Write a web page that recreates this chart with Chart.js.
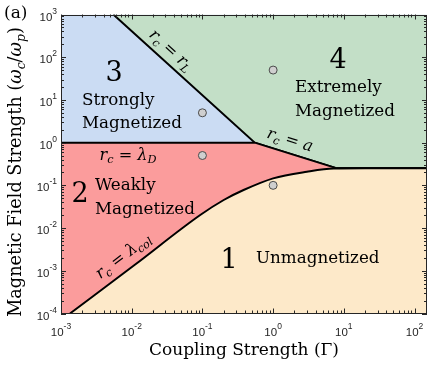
<!DOCTYPE html>
<html><head><meta charset="utf-8">
<script src="https://cdn.jsdelivr.net/npm/chart.js@4/dist/chart.umd.min.js"></script>
<style>html,body{margin:0;padding:0;background:#fff}#wrap{width:436px;height:365px;position:relative}</style>
</head><body><div id="wrap"><canvas id="c" width="436" height="365"></canvas></div>
<script>
// ---- data ----
const xRange = [1e-3, 150];
const yRange = [1e-4, 1e3];
const xTickExps = [-3, -2, -1, 0, 1, 2];
const yTickExps = [-4, -3, -2, -1, 0, 1, 2, 3];

// boundary r_c = lambda_D (horizontal, omega_c/omega_p = 1)
const lambdaDGamma = [0.001, 0.55];
const lambdaDB = [1, 1];
// boundary r_c = r_L
const rLGamma = [0.0055, 0.55];
const rLB = [1000, 1];
// boundary r_c = a
const aGamma = [0.55, 8.0];
const aB = [1, 0.25];
// flat boundary at large coupling
const flatGamma = [8.0, 150];
const flatB = [0.25, 0.25];
// boundary r_c = lambda_col (curve)
const colGamma = [0.00134, 0.0112, 0.0931, 0.2, 0.382, 1.0, 3.0, 7.2, 20, 150];
const colB = [1e-4, 0.0014, 0.0202, 0.0454, 0.0778, 0.146, 0.208, 0.247, 0.25, 0.25];
// marked sample points
const ptGamma = [0.1, 1, 0.1, 1];
const ptB = [5, 50, 0.5, 0.1];

const xTitle = [{t:'Coupling Strength ('}, {t:'\u0393'}, {t:')'}];
const yTitle = [{t:'Magnetic Field Strength ('}, {t:'\u03c9', i:1}, {t:'c', i:1, sub:1}, {t:'/'}, {t:'\u03c9', i:1}, {t:'p', i:1, sub:1}, {t:')'}];

const COL = {blue:'#cbdcf3', green:'#c3dfc7', red:'#fb9c9c', beige:'#fde9c9'};

const zip = (xs, ys) => xs.map((x, i) => ({x, y: ys[i]}));
const upperBoundary = zip(rLGamma.concat(aGamma.slice(1), flatGamma.slice(1)), rLB.concat(aB.slice(1), flatB.slice(1)));
const redTop = zip(lambdaDGamma.concat(aGamma.slice(1), flatGamma.slice(1)), lambdaDB.concat(aB.slice(1), flatB.slice(1)));

const SERIF = '"DejaVu Serif", serif';
const SANS = '"Liberation Sans", Arial, sans-serif';

function fontStr(s, size, fam) {
  const sz = (s.sub || s.sup) ? size * 0.7 : size;
  return (s.i ? 'italic ' : '') + sz.toFixed(2) + 'px ' + fam;
}
function richWidth(ctx, segs, size, fam) {
  let w = 0;
  for (const s of segs) { ctx.font = fontStr(s, size, fam); w += ctx.measureText(s.t).width; }
  return w;
}
function drawRich(ctx, segs, x, y, size, fam, align) {
  const w = richWidth(ctx, segs, size, fam);
  let cx = align === 'center' ? x - w / 2 : align === 'right' ? x - w : x;
  ctx.textAlign = 'left';
  ctx.textBaseline = 'alphabetic';
  for (const s of segs) {
    ctx.font = fontStr(s, size, fam);
    const dy = s.sub ? size * 0.22 : s.sup ? -size * 0.45 : 0;
    ctx.fillText(s.t, cx, y + dy);
    cx += ctx.measureText(s.t).width;
  }
  return w;
}
function fitSize(ctx, segs, fam, target) {
  const w = richWidth(ctx, segs, 10, fam);
  return 10 * target / w;
}

const eq = {
  rL: [{t:'r', i:1}, {t:'c', i:1, sub:1}, {t:' = '}, {t:'r', i:1}, {t:'L', i:1, sub:1}],
  a: [{t:'r', i:1}, {t:'c', i:1, sub:1}, {t:' = '}, {t:'a', i:1}],
  lD: [{t:'r', i:1}, {t:'c', i:1, sub:1}, {t:' = '}, {t:'\u03bb', i:1}, {t:'D', i:1, sub:1}],
  lcol: [{t:'r', i:1}, {t:'c', i:1, sub:1}, {t:' = '}, {t:'\u03bb', i:1}, {t:'col', i:1, sub:1}]
};

const decor = {
  id: 'decor',
  afterDatasetsDraw(chart) {
    const ctx = chart.ctx;
    const xs = chart.scales.x, ys = chart.scales.y;
    ctx.save();
    ctx.fillStyle = '#000';
    // region numbers
    ctx.font = '27px ' + SERIF; ctx.textAlign = 'center'; ctx.textBaseline = 'alphabetic';
    ctx.fillText('3', 114, 81);
    ctx.fillText('4', 338, 68);
    ctx.fillText('2', 80, 202);
    ctx.fillText('1', 229, 268);
    // region names
    const rs = fitSize(ctx, [{t:'Magnetized'}], SERIF, 100);
    ctx.font = rs.toFixed(2) + 'px ' + SERIF; ctx.textAlign = 'left';
    ctx.fillText('Strongly', 82, 105);
    ctx.fillText('Magnetized', 82, 128);
    ctx.fillText('Extremely', 295, 92);
    ctx.fillText('Magnetized', 295, 116);
    ctx.fillText('Weakly', 95, 190);
    ctx.fillText('Magnetized', 95, 214);
    ctx.fillText('Unmagnetized', 256, 263);
    // equation labels
    const es = fitSize(ctx, eq.lD, SERIF, 57);
    const rot = (segs, cx, cy, ang) => {
      ctx.save(); ctx.translate(cx, cy); ctx.rotate(ang);
      drawRich(ctx, segs, 0, es * 0.3, es, SERIF, 'center');
      ctx.restore();
    };
    const angOf = (g1, b1, g2, b2) => Math.atan2(ys.getPixelForValue(b2) - ys.getPixelForValue(b1), xs.getPixelForValue(g2) - xs.getPixelForValue(g1));
    rot(eq.rL, 171, 50, angOf(rLGamma[0], rLB[0], rLGamma[1], rLB[1]));
    rot(eq.a, 290, 140, angOf(aGamma[0], aB[0], aGamma[1], aB[1]));
    rot(eq.lD, 128, 155, 0);
    rot(eq.lcol, 123, 256, angOf(colGamma[0], colB[0], colGamma[2], colB[2]));
    ctx.restore();
  },
  afterDraw(chart) {
    const ctx = chart.ctx, ca = chart.chartArea;
    const xs = chart.scales.x, ys = chart.scales.y;
    ctx.save();
    ctx.strokeStyle = '#262626'; ctx.lineWidth = 1;
    // ticks, inward, all four sides
    ctx.beginPath();
    for (let d = -4; d <= 3; d++) for (let m = 1; m <= 9; m++) {
      const v = m * Math.pow(10, d);
      const len = m === 1 ? 5 : 3;
      if (v >= xRange[0] && v <= xRange[1]) {
        const px = Math.round(xs.getPixelForValue(v)) + 0.5;
        ctx.moveTo(px, ca.bottom); ctx.lineTo(px, ca.bottom - len);
        ctx.moveTo(px, ca.top); ctx.lineTo(px, ca.top + len);
      }
      if (v >= yRange[0] && v <= yRange[1]) {
        const py = Math.round(ys.getPixelForValue(v)) + 0.5;
        ctx.moveTo(ca.left, py); ctx.lineTo(ca.left + len, py);
        ctx.moveTo(ca.right, py); ctx.lineTo(ca.right - len, py);
      }
    }
    ctx.stroke();
    ctx.strokeRect(Math.round(ca.left) + 0.5, Math.round(ca.top) + 0.5, Math.round(ca.right - ca.left) - 1, Math.round(ca.bottom - ca.top) - 1);
    // tick labels
    ctx.fillStyle = '#262626';
    const tl = (e, x, y, align) => {
      const base = '11.5px ' + SANS, sup = '8.5px ' + SANS;
      ctx.font = base; const w1 = ctx.measureText('10').width;
      ctx.font = sup; const w2 = ctx.measureText(String(e)).width;
      let x0 = align === 'center' ? x - (w1 + w2) / 2 : x - (w1 + w2);
      ctx.textAlign = 'left'; ctx.textBaseline = 'alphabetic';
      ctx.font = base; ctx.fillText('10', x0, y);
      ctx.font = sup; ctx.fillText(String(e), x0 + w1, y - 7);
    };
    for (const e of xTickExps) tl(e, xs.getPixelForValue(Math.pow(10, e)), 335.5, 'center');
    for (const e of yTickExps) tl(e, ca.left - 4, ys.getPixelForValue(Math.pow(10, e)) + 6, 'right');
    // axis titles
    ctx.fillStyle = '#000';
    const xsz = fitSize(ctx, xTitle, SERIF, 190);
    drawRich(ctx, xTitle, (ca.left + ca.right) / 2, 355, xsz, SERIF, 'center');
    const ysz = fitSize(ctx, yTitle, SERIF, 290);
    ctx.save(); ctx.translate(21, 172); ctx.rotate(-Math.PI / 2);
    drawRich(ctx, yTitle, 0, 0, ysz, SERIF, 'center');
    ctx.restore();
    // panel label
    ctx.font = '17px ' + SERIF; ctx.textAlign = 'left'; ctx.textBaseline = 'alphabetic';
    ctx.fillText('(a)', 4, 18);
    ctx.restore();
  }
};

const lineDs = (label, data, fillMode, bg, order, extra) => Object.assign({
  label, data, fill: fillMode, backgroundColor: bg, borderColor: '#000', borderWidth: 2,
  pointRadius: 0, order, tension: 0
}, extra || {});

new Chart(document.getElementById('c'), {
  type: 'line',
  data: {
    datasets: [
      {label: 'points', type: 'scatter', data: zip(ptGamma, ptB), pointRadius: 4, pointBackgroundColor: '#cfcfcf', pointBorderColor: '#4a4a4a', pointBorderWidth: 1, showLine: false, order: 0},
      lineDs('r_c = lambda_col', zip(colGamma, colB), 'start', COL.beige, 1, {cubicInterpolationMode: 'monotone'}),
      lineDs('weakly', redTop, 'start', COL.red, 2),
      lineDs('r_c = r_L / a', upperBoundary, 'end', COL.green, 3),
      lineDs('strongly', zip(xRange, [1, 1]), 'end', COL.blue, 4, {borderWidth: 0})
    ]
  },
  options: {
    responsive: false, animation: false, devicePixelRatio: 1,
    layout: {padding: {left: 61, top: 14.5, right: 9, bottom: 51.5}},
    plugins: {legend: {display: false}, tooltip: {enabled: false}},
    scales: {
      x: {type: 'logarithmic', min: xRange[0], max: xRange[1], display: false},
      y: {type: 'logarithmic', min: yRange[0], max: yRange[1], display: false}
    }
  },
  plugins: [decor]
});
</script>
</body></html>
